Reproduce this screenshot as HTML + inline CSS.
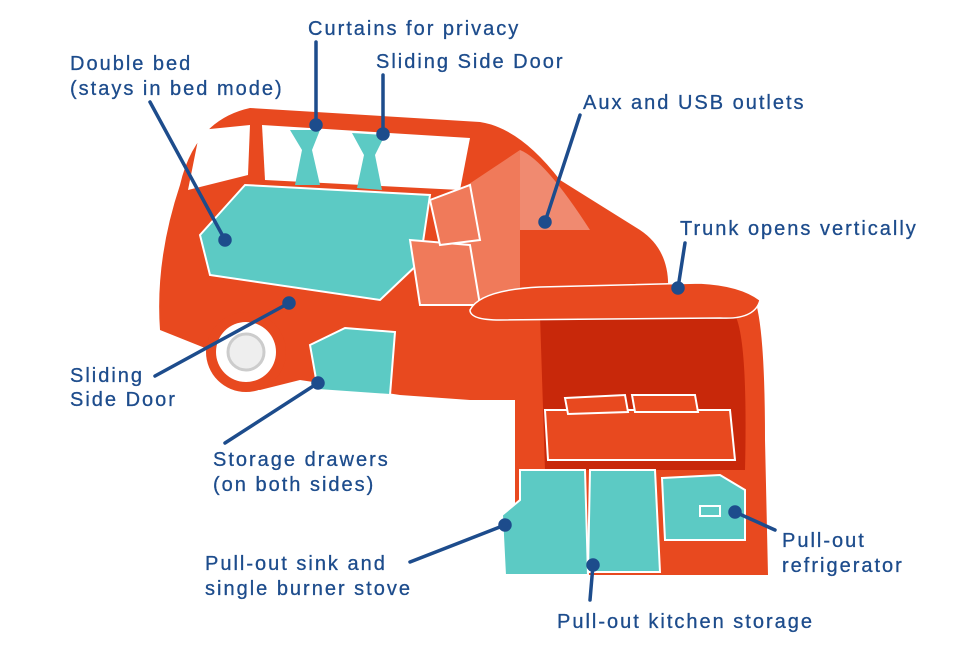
<!DOCTYPE html>
<html><head><meta charset="utf-8"><style>
html,body{margin:0;padding:0;background:#fff;}
svg text{font-family:"Liberation Sans",sans-serif;font-size:20px;fill:#1d4c8c;letter-spacing:2px;stroke:#1d4c8c;stroke-width:0.3px;}
</style></head><body>
<svg width="974" height="650" viewBox="0 0 974 650" xmlns="http://www.w3.org/2000/svg">
<!-- van body -->
<path d="M180,185 Q195,120 250,108 L480,122 Q520,128 560,180 L640,230 Q670,250 668,290 L520,300 L515,400 L470,400 L400,395 L300,380 L260,390 Q215,385 210,350 L160,330 Q155,260 180,185 Z" fill="#e8491f"/>
<!-- windows -->
<path d="M262,125 L470,138 L460,190 L265,180 Z" fill="#fff"/>
<path d="M188,190 L200,130 L250,125 L248,175 Z" fill="#fff"/>
<path d="M520,150 Q545,160 590,230 L520,230 Z" fill="#f08a70"/>
<path d="M460,190 L520,150 L520,300 L440,300 Z" fill="#f07a5a"/>
<!-- curtains -->
<path d="M290,130 L320,130 L312,150 L320,185 L295,185 L302,150 Z" fill="#5ccac4"/>
<path d="M352,133 L385,135 L375,155 L382,190 L357,188 L364,155 Z" fill="#5ccac4"/>
<!-- bed -->
<path d="M200,235 L245,185 L430,195 L420,262 L380,300 L210,275 Z" fill="#5ccac4" stroke="#fff" stroke-width="2"/>
<!-- seats -->
<path d="M410,240 L470,245 L480,305 L420,305 Z" fill="#f07a5a" stroke="#fff" stroke-width="2"/>
<path d="M430,200 L470,185 L480,240 L440,245 Z" fill="#f07a5a" stroke="#fff" stroke-width="2"/>
<!-- wheel -->
<circle cx="246" cy="352" r="40" fill="#e8491f"/>
<circle cx="246" cy="352" r="30" fill="#fff"/>
<circle cx="246" cy="352" r="18" fill="#eee" stroke="#ccc" stroke-width="3"/>
<!-- drawer -->
<path d="M310,345 L345,328 L395,332 L390,395 L318,390 Z" fill="#5ccac4" stroke="#fff" stroke-width="2"/>
<!-- rear opening -->
<path d="M520,300 L755,300 Q765,330 765,440 L768,575 L515,575 L515,320 Z" fill="#e8491f"/>
<path d="M540,315 L735,315 Q748,340 745,470 L545,470 Z" fill="#c8280a"/>
<!-- rear bed -->
<path d="M545,410 L730,410 L735,460 L548,460 Z" fill="#e8491f" stroke="#fff" stroke-width="2"/>
<path d="M565,398 L625,395 L628,412 L568,414 Z M632,395 L695,395 L698,412 L635,412 Z" fill="#e8491f" stroke="#fff" stroke-width="2"/>
<!-- trunk lid -->
<path d="M470,310 Q480,290 540,287 L700,283 Q740,285 760,300 Q755,320 720,318 L500,320 Q470,320 470,310 Z" fill="#e8491f" stroke="#fff" stroke-width="1.5"/>
<!-- kitchen units -->
<path d="M520,470 L585,470 L588,575 L505,575 L502,515 L520,500 Z" fill="#5ccac4" stroke="#fff" stroke-width="2"/>
<path d="M590,470 L655,470 L660,572 L588,572 Z" fill="#5ccac4" stroke="#fff" stroke-width="2"/>
<path d="M662,478 L720,475 L745,490 L745,540 L665,540 Z" fill="#5ccac4" stroke="#fff" stroke-width="2"/>
<rect x="700" y="506" width="20" height="10" fill="none" stroke="#fff" stroke-width="2"/>
<!-- leader lines -->
<g stroke="#1d4c8c" stroke-width="3.5" fill="#1d4c8c" stroke-linecap="round">
<line x1="150" y1="102" x2="225" y2="240"/><circle cx="225" cy="240" r="5"/>
<line x1="316" y1="42" x2="316" y2="125"/><circle cx="316" cy="125" r="5"/>
<line x1="383" y1="75" x2="383" y2="134"/><circle cx="383" cy="134" r="5"/>
<line x1="580" y1="115" x2="545" y2="222"/><circle cx="545" cy="222" r="5"/>
<line x1="685" y1="243" x2="678" y2="288"/><circle cx="678" cy="288" r="5"/>
<line x1="155" y1="376" x2="289" y2="303"/><circle cx="289" cy="303" r="5"/>
<line x1="225" y1="443" x2="318" y2="383"/><circle cx="318" cy="383" r="5"/>
<line x1="410" y1="562" x2="505" y2="525"/><circle cx="505" cy="525" r="5"/>
<line x1="590" y1="600" x2="593" y2="565"/><circle cx="593" cy="565" r="5"/>
<line x1="775" y1="530" x2="735" y2="512"/><circle cx="735" cy="512" r="5"/>
</g>
<!-- labels -->
<text x="70" y="70">Double bed</text>
<text x="70" y="95">(stays in bed mode)</text>
<text x="308" y="35">Curtains for privacy</text>
<text x="376" y="68">Sliding Side Door</text>
<text x="583" y="109">Aux and USB outlets</text>
<text x="680" y="235">Trunk opens vertically</text>
<text x="70" y="382">Sliding</text>
<text x="70" y="406">Side Door</text>
<text x="213" y="466">Storage drawers</text>
<text x="213" y="491">(on both sides)</text>
<text x="205" y="570">Pull-out sink and</text>
<text x="205" y="595">single burner stove</text>
<text x="557" y="628">Pull-out kitchen storage</text>
<text x="782" y="547">Pull-out</text>
<text x="782" y="572">refrigerator</text>
</svg>
</body></html>
